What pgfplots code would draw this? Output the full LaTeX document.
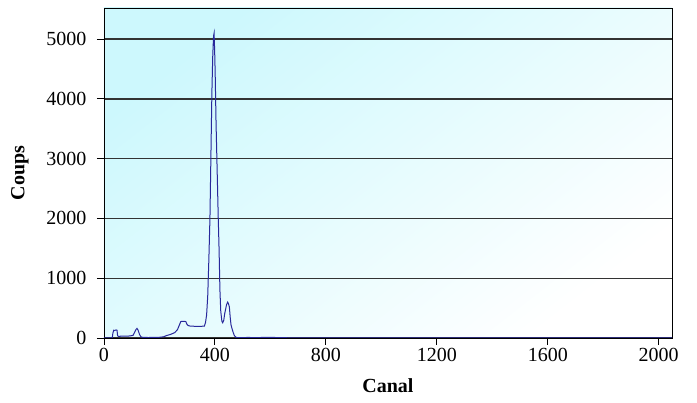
\documentclass[border=0pt]{standalone}
\usepackage{fontspec}
\setmainfont{Liberation Serif}
\usepackage{pgfplots}
\pgfplotsset{compat=1.18}
\definecolor{spec}{RGB}{40,40,155}
\definecolor{bgcyan}{RGB}{205,248,253}

\begin{document}
\begin{tikzpicture}
\begin{axis}[
    scale only axis,
    width=568pt, height=330pt,
    xmin=0, xmax=2048,
    ymin=0, ymax=5520,
    xtick={0,400,800,1200,1600,2000},
    ytick={0,1000,2000,3000,4000,5000},
    tick align=outside,
    tick pos=left,
    major tick length=7pt,
    tick style={black, line width=0.9pt},
    axis line style={black, line width=0.9pt},
    ymajorgrids=true,
    grid style={black!80, line width=1.4pt},
    axis background/.style={top color=bgcyan, middle color=white,
        bottom color=white, shading angle=38},
    /pgf/number format/assume math mode=true,
    /pgf/number format/1000 sep={},
    ticklabel style={font=\fontsize{20}{23}\selectfont},
    yticklabel style={xshift=-7pt},
    xlabel={\textbf{Canal}},
    ylabel={\textbf{Coups}},
    label style={font=\fontsize{20}{23}\selectfont},
    xlabel style={at={(axis description cs:0.5,-0.145)}, anchor=center},
    ylabel style={at={(axis description cs:-0.148,0.5)}, anchor=center},
]
\addplot[color=spec, line width=1pt] coordinates {
(0,0)(20,0)(30,5)(32,80)(35,130)(38,125)(44,135)(47,130)(49,40)(52,25)
(60,30)(80,30)(95,35)(105,45)(110,90)(115,140)(119,160)(123,130)(128,60)(133,20)
(140,10)(160,8)(180,10)(200,12)(215,20)(225,40)(240,60)(255,90)(265,140)(272,220)
(277,275)(285,280)(295,275)(299,230)(303,210)(310,200)(330,195)(350,195)(362,200)
(366,260)(370,385)(374,700)(378,1300)(382,2000)(386,3200)(389,4100)(392,4700)
(395,5050)(397,5100)(399,4800)(401,4400)(404,3600)(408,2800)(412,2000)(415,1470)
(418,800)(421,450)(425,280)(428,255)(432,300)(435,400)(438,470)(442,560)(446,600)
(449,570)(452,520)(455,350)(458,220)(462,150)(466,90)(470,40)(475,15)(480,5)
(500,5)(520,10)(540,5)(560,8)(600,10)(650,5)(700,0)(2048,0)
};
\coordinate (o) at (rel axis cs:0,0);
\end{axis}
\pgfresetboundingbox
\path[use as bounding box] ([shift={(-104pt,-65pt)}]o) rectangle ++(697pt,403pt);
\end{tikzpicture}
\end{document}
